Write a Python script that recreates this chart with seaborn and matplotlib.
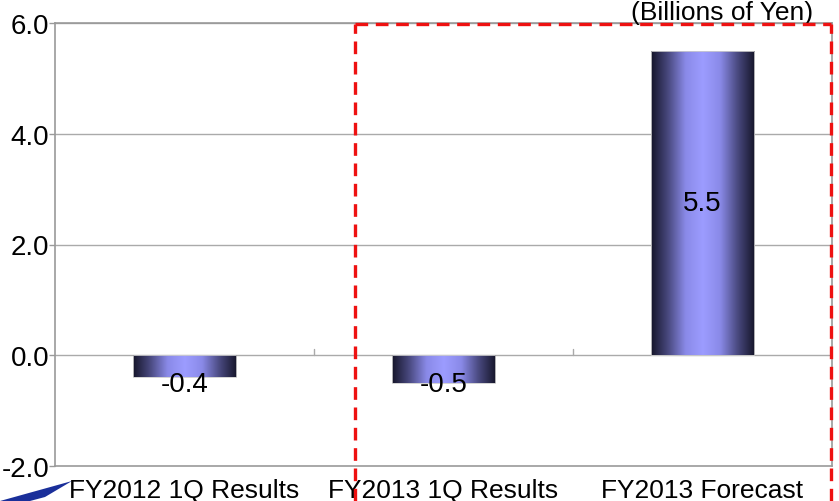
import numpy as np
import pandas as pd
import matplotlib
matplotlib.use("Agg")
import matplotlib.pyplot as plt
import seaborn as sns
from matplotlib.colors import LinearSegmentedColormap
from matplotlib.patches import Rectangle, Polygon

categories = ["FY2012 1Q Results", "FY2013 1Q Results", "FY2013 Forecast"]
values = [-0.4, -0.5, 5.5]
value_labels = ["-0.4", "-0.5", "5.5"]
y_ticks = [-2.0, 0.0, 2.0, 4.0, 6.0]
unit_label = "(Billions of Yen)"

sns.set_theme(style="white")
plt.rcParams["font.family"] = ["Liberation Sans", "DejaVu Sans"]

fig = plt.figure(figsize=(8.39, 5.02), dpi=100)
ax = fig.add_axes([55 / 839, 1 - 467 / 502, (832 - 55) / 839, (467 - 24) / 502])

df = pd.DataFrame({"category": categories, "value": values})
sns.barplot(data=df, x="category", y="value", ax=ax, width=0.4,
            color="#9999ff", edgecolor="none", zorder=3)

ax.set_ylim(-2.0, 6.0)
ax.set_xlim(-0.5, 2.5)
ax.set_yticks(y_ticks)
ax.set_yticklabels([f"{t:.1f}" for t in y_ticks], fontsize=20, color="black")
ax.set_xticks(range(len(categories)))
ax.set_xticklabels(categories, fontsize=19, color="black")
ax.set_xlabel("")
ax.set_ylabel("")
ax.tick_params(axis="x", length=0, pad=9)
ax.tick_params(axis="y", length=4, width=1, color="#999999", pad=0, left=True)

for t in y_ticks[1:]:
    ax.axhline(t, color="#aaaaaa", lw=1.0, zorder=1)
for s in ax.spines.values():
    s.set_color("#999999")
    s.set_linewidth(1.2)

# small category divider ticks on the zero line
for xb in [0.5, 1.5]:
    ax.plot([xb, xb], [0.0, 0.12], color="#aaaaaa", lw=1.0, zorder=2)

# cylindrical shading: dark edges, light centre
cmap = LinearSegmentedColormap.from_list(
    "cyl", ["#15152a", "#4a4a80", "#8a8ae8", "#9c9cff", "#8a8ae8", "#4a4a80", "#15152a"])
grad = np.linspace(0, 1, 256).reshape(1, -1)
for patch in list(ax.patches):
    x0, y0 = patch.get_x(), patch.get_y()
    w, h = patch.get_width(), patch.get_height()
    ylo, yhi = min(y0, y0 + h), max(y0, y0 + h)
    im = ax.imshow(grad, cmap=cmap, aspect="auto", extent=[x0, x0 + w, ylo, yhi],
                   zorder=4, interpolation="bicubic")
    im.set_clip_path(patch)
    patch.set_alpha(0)
    ax.add_patch(Rectangle((x0, ylo), w, yhi - ylo, fill=False,
                           edgecolor="#cccccc", lw=0.6, zorder=5))

ax.set_xlim(-0.5, 2.5)
ax.set_ylim(-2.0, 6.0)

# value labels
label_y = [-0.52, -0.52, 2.75]
for i, (txt, yy) in enumerate(zip(value_labels, label_y)):
    ax.text(i, yy, txt, ha="center", va="center", fontsize=20, color="black", zorder=6)

# highlight frame around FY2013 columns
red_style = dict(color="#ee1111", lw=2.4, ls=(0, (3.8, 2.3)), transform=fig.transFigure, zorder=10)
top = 1 - 25 / 502
fig.add_artist(plt.Line2D([355 / 839, 355 / 839], [0, top], **red_style))
fig.add_artist(plt.Line2D([831 / 839, 831 / 839], [0, top], **red_style))
fig.add_artist(plt.Line2D([355 / 839, 831 / 839], [top, top], **red_style))

fig.text(722 / 839, 1 - 13 / 502, unit_label, ha="center", va="center", fontsize=19, color="black")

# corner swoosh of the company mark
fig.add_artist(Polygon([[0 / 839, 0.0], [72 / 839, 1 - 482 / 502], [45 / 839, 1 - 498 / 502],
                        [30 / 839, 0.0]], closed=True, facecolor="#1a2f9a", edgecolor="none",
                       transform=fig.transFigure, zorder=0))

fig.savefig("out.png", dpi=100, facecolor="white")
